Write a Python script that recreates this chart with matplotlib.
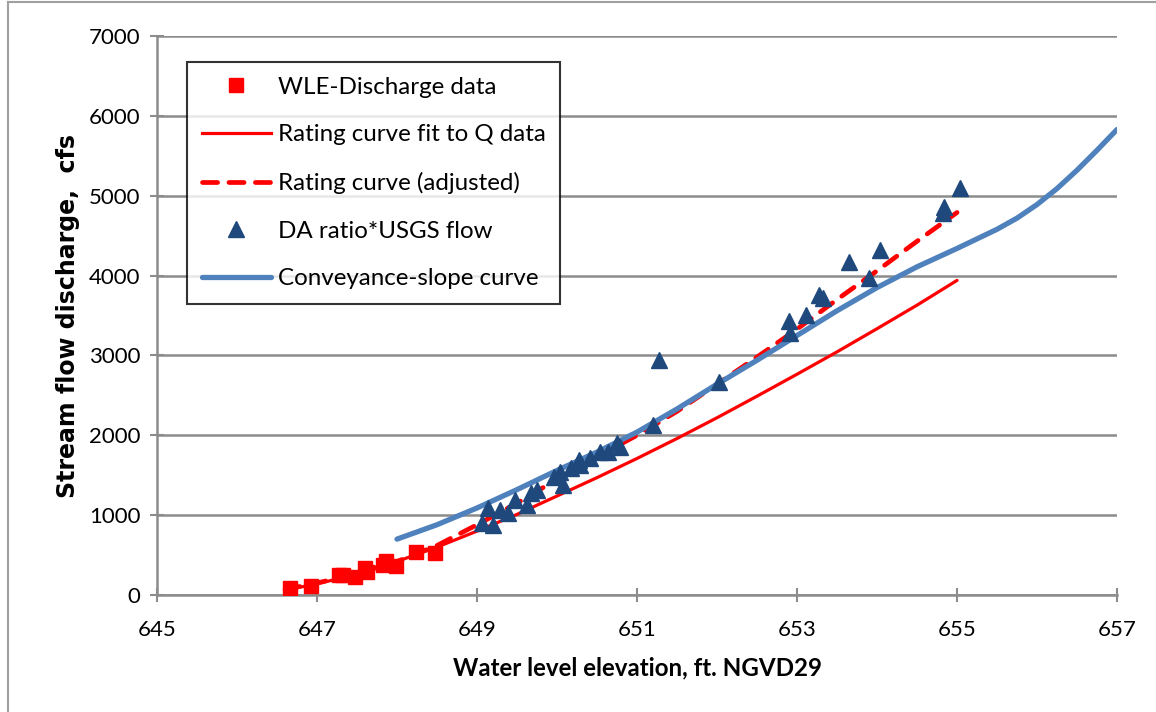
import numpy as np
import matplotlib.pyplot as plt
from matplotlib.lines import Line2D

plt.rcParams['font.family'] = ['Lato', 'DejaVu Sans']

# measured stage / discharge pairs
wle_elev = [646.66, 646.92, 647.28, 647.33, 647.47, 647.60, 647.63, 647.82, 647.86, 647.99, 648.24, 648.48]
wle_q = [85, 115, 250, 245, 225, 340, 290, 370, 420, 360, 540, 525]

# rating curve fitted to Q data
fit_elev = [646.6, 647.0, 647.5, 648.0, 648.5, 649.0, 649.5, 650.0, 650.5, 651.0,
            651.5, 652.0, 652.5, 653.0, 653.5, 654.0, 654.5, 655.0]
fit_q = [60, 140, 260, 420, 600, 800, 1010, 1240, 1470, 1710,
         1960, 2220, 2490, 2765, 3045, 3335, 3630, 3940]

# adjusted rating curve
adj_elev = fit_elev
adj_q = [70, 150, 270, 420, 620, 880, 1150, 1450, 1730, 2000,
         2300, 2640, 2980, 3330, 3700, 4060, 4430, 4790]

# drainage-area ratio * USGS flow
da_elev = [649.06, 649.14, 649.20, 649.29, 649.39, 649.48, 649.62, 649.68, 649.75, 649.96,
           650.04, 650.08, 650.18, 650.27, 650.29, 650.41, 650.54, 650.64, 650.75, 650.79,
           651.20, 651.27, 652.03, 652.90, 652.91, 653.11, 653.27, 653.33, 653.65, 653.90,
           654.04, 654.82, 654.84, 655.04]
da_q = [900, 1085, 880, 1064, 1023, 1190, 1127, 1273, 1315, 1480,
        1544, 1377, 1586, 1690, 1628, 1711, 1795, 1795, 1899, 1857,
        2130, 2945, 2671, 3435, 3277, 3506, 3757, 3715, 4174, 3966,
        4320, 4790, 4860, 5093]

# conveyance-slope curve
cs_elev = [648.0, 648.5, 649.0, 649.5, 650.0, 650.5, 651.0, 651.5, 652.0, 652.5,
           653.0, 653.5, 654.0, 654.5, 655.0, 655.25, 655.5, 655.75, 656.0, 656.25,
           656.5, 656.75, 657.0]
cs_q = [700, 880, 1090, 1320, 1560, 1790, 2040, 2330, 2640, 2940,
        3250, 3560, 3850, 4110, 4340, 4460, 4580, 4720, 4890, 5090,
        5320, 5570, 5830]

x_ticks = [645, 647, 649, 651, 653, 655, 657]
y_ticks = [0, 1000, 2000, 3000, 4000, 5000, 6000, 7000]

red = '#FF0000'
navy = '#1F497D'
steel = '#4F81BD'
grid_gray = '#8C8C8C'

fig = plt.figure(figsize=(11.56, 7.12), dpi=100)
ax = fig.add_axes([0.1358, 0.1643, 0.8305, 0.7851])

ax.plot(fit_elev, fit_q, color=red, lw=2.3, solid_capstyle='round', zorder=3)
ax.plot(adj_elev, adj_q, color=red, lw=3.4, dashes=(3.2, 2.4), dash_capstyle='round', zorder=3)
ax.plot(cs_elev, cs_q, color=steel, lw=3.8, solid_capstyle='round',
        solid_joinstyle='round', zorder=4)
ax.plot(wle_elev, wle_q, ls='none', marker='s', ms=10, color=red, mec=red, zorder=5)
ax.plot(da_elev, da_q, ls='none', marker='^', ms=12, color=navy, mec=navy, zorder=6)

ax.set_xlim(645, 657)
ax.set_ylim(0, 7000)
ax.set_xticks(x_ticks)
ax.set_yticks(y_ticks)
ax.set_xticklabels([str(v) for v in x_ticks])
ax.set_yticklabels([str(v) for v in y_ticks])
ax.yaxis.grid(True, color=grid_gray, lw=1.8)
ax.set_axisbelow(True)
for s in ['top', 'right']:
    ax.spines[s].set_visible(False)
for s in ['left', 'bottom']:
    ax.spines[s].set_color(grid_gray)
    ax.spines[s].set_linewidth(1.8)
ax.tick_params(direction='inout', length=10, width=1.5, color=grid_gray,
               labelsize=16, labelcolor='black', pad=7)
ax.tick_params(axis='x', pad=13)

ax.set_xlabel('Water level elevation, ft. NGVD29', fontsize=17.4, fontweight='bold', labelpad=12)
ax.set_ylabel('Stream flow discharge,  cfs', fontsize=17, fontweight='bold',
              family='DejaVu Sans', labelpad=6)

handles = [
    Line2D([], [], ls='none', marker='s', ms=10, color=red),
    Line2D([], [], color=red, lw=2.3),
    Line2D([], [], color=red, lw=3.4, dashes=(3.2, 2.4), dash_capstyle='round'),
    Line2D([], [], ls='none', marker='^', ms=12, color=navy),
    Line2D([], [], color=steel, lw=3.8, solid_capstyle='round'),
]
labels = ['WLE-Discharge data', 'Rating curve fit to Q data', 'Rating curve (adjusted)',
          'DA ratio*USGS flow', 'Conveyance-slope curve']
leg = ax.legend(handles, labels, loc='upper left', bbox_to_anchor=(0.03125, 0.9535),
                fontsize=17.4, frameon=True, fancybox=False, handlelength=2.85,
                labelspacing=1.1, borderpad=0.61, handletextpad=0.3, borderaxespad=0)
leg.get_frame().set_edgecolor('black')
leg.get_frame().set_linewidth(1.5)

# outer chart frame (left and top edges)
fig.add_artist(Line2D([0.007, 0.007], [0, 0.997], color='#A0A0A0', lw=1.5))
fig.add_artist(Line2D([0.007, 1.0], [0.997, 0.997], color='#A0A0A0', lw=1.5))

fig.savefig('out.png', dpi=100)
